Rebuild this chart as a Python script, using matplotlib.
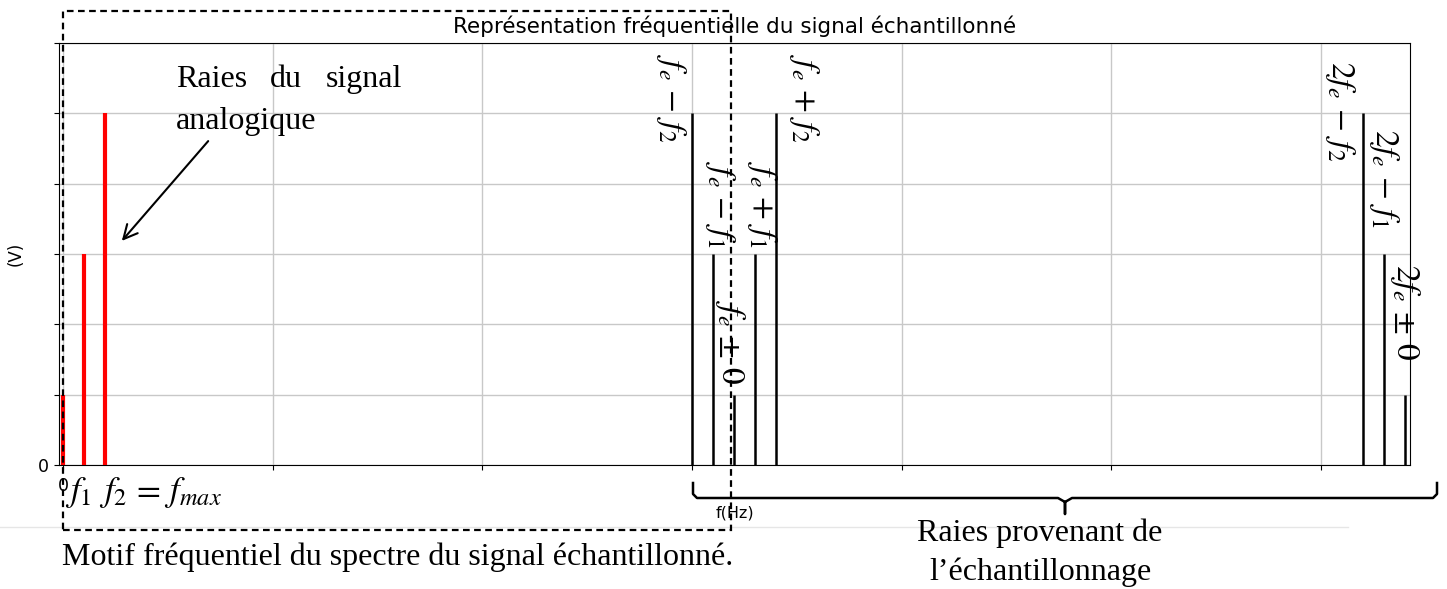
import numpy as np
import matplotlib
matplotlib.use("Agg")
import matplotlib.pyplot as plt
from matplotlib.lines import Line2D
from matplotlib.patches import Rectangle

# donnees
f1 = 1
f2 = 2
fe = 32
freq_signal = [0, f1, f2]
amp_signal = [1, 3, 5]
freq_ech = [fe - f2, fe - f1, fe, fe + f1, fe + f2, 2 * fe - f2, 2 * fe - f1, 2 * fe]
amp_ech = [5, 3, 1, 3, 5, 5, 3, 1]
labels_ech = [r"$f_e\,-\,f_2$", r"$f_e\,-\,f_1$", r"$f_e\,\pm\,0$", r"$f_e\,+\,f_1$",
              r"$f_e\,+\,f_2$", r"$2f_e\,-\,f_2$", r"$2f_e\,-\,f_1$", r"$2f_e\,\pm\,0$"]
# placement des etiquettes (decalage en x, centre en y)
label_dx = [-1.0, 0.33, -0.2, 0.33, 1.33, -1.1, 0.0, 0.0]
label_yc = [5.21, 3.70, 1.75, 3.71, 5.21, 5.03, 4.07, 2.18]

W, H = 1447, 589
plt.rcParams["mathtext.fontset"] = "stix"
fig = plt.figure(figsize=(W / 100, H / 100), dpi=100)
ax = fig.add_axes([59 / W, 1 - 465 / H, (1410 - 59) / W, (465 - 43) / H])

ax.vlines(freq_signal, 0, amp_signal, colors="red", lw=3, zorder=3)
ax.vlines(freq_ech, 0, amp_ech, colors="black", lw=1.8, zorder=3)

for x, dx, yc, lab in zip(freq_ech, label_dx, label_yc, labels_ech):
    ax.text(x + dx, yc, lab, rotation=-90, ha="center", va="center", fontsize=24,
            clip_on=False, zorder=4)

ax.set_xlim(-0.2, 64.25)
ax.set_ylim(0, 6)
ax.set_xticks(np.arange(0, 61, 10))
ax.set_xticklabels(["0"] + [""] * 6)
ax.set_yticks(np.arange(0, 7, 1))
ax.set_yticklabels(["0"] + [""] * 6)
ax.tick_params(labelsize=12.5)
ax.tick_params(axis="x", pad=5)
ax.grid(True, color="#c8c8c8", lw=1)
ax.set_axisbelow(True)
ax.set_title("Représentation fréquentielle du signal échantillonné", fontsize=15.5, pad=7)
ax.set_xlabel("f(Hz)", fontsize=11.5, labelpad=8)
ax.set_ylabel("(V)", fontsize=12, labelpad=10)

# annotations ajoutees par-dessus (coordonnees en pixels)
def px(x, y):
    return x / W, 1 - y / H

serif = "Liberation Serif"
fig.add_artist(Line2D([0, 1348 / W], [1 - 527 / H] * 2, transform=fig.transFigure,
                      color="#e6e6e6", lw=1))
x0, y0 = px(63, 530)
x1, y1 = px(731, 11)
fig.add_artist(Rectangle((x0, y0), x1 - x0, y1 - y0, transform=fig.transFigure,
                         fill=False, ls=(0, (3, 2)), lw=1.6, ec="black", zorder=5))

for word, wx in zip(["Raies", "du", "signal"], [176, 270, 326]):
    fig.text(*px(wx, 80), word, fontsize=23, family=serif, va="center")
fig.text(*px(176, 122), "analogique", fontsize=23, family=serif, va="center")
ax.annotate("", xy=px(120, 243), xycoords="figure fraction",
            xytext=px(210, 139), textcoords="figure fraction",
            arrowprops=dict(arrowstyle="->", lw=1.5, color="black", mutation_scale=25))

fig.text(*px(65, 492), r"$f_1$", fontsize=25, va="center")
fig.text(*px(99, 492), r"$f_2\,=\,f_{max}$", fontsize=25, va="center")

fig.text(*px(62, 557), "Motif fréquentiel du spectre du signal échantillonné.",
         fontsize=23, family=serif, va="center")
fig.text(*px(1040, 533), "Raies provenant de", fontsize=23, family=serif,
         ha="center", va="center")
fig.text(*px(1040, 572), "l’échantillonnage", fontsize=23, family=serif,
         ha="center", va="center")

# accolade
bx = [693, 693, 697, 1058, 1065, 1065, 1065, 1072, 1433, 1437, 1437]
by = [483, 494, 498, 498, 502, 514, 502, 498, 498, 494, 483]
xs = [b / W for b in bx]
ys = [1 - b / H for b in by]
fig.add_artist(Line2D(xs, ys, transform=fig.transFigure, color="black", lw=1.8))

fig.savefig("out.png", dpi=100)
